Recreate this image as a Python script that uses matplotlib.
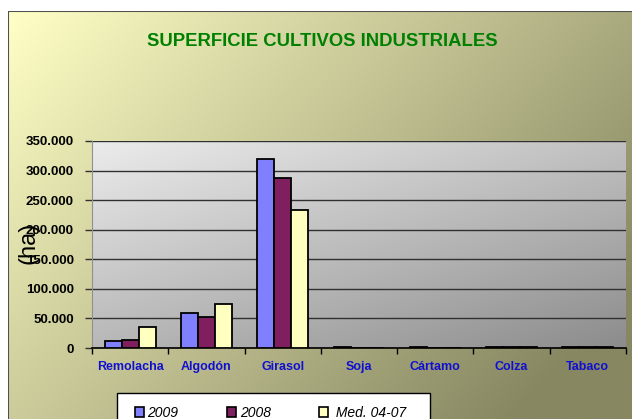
import numpy as np
import matplotlib.pyplot as plt
from matplotlib.patches import Rectangle, Patch

# Data
categories = ['Remolacha', 'Algodón', 'Girasol', 'Soja', 'Cártamo', 'Colza', 'Tabaco']
series_names = ['2009', '2008', ' Med. 04-07']
v2009 = [12000, 59000, 320000, 1000, 2500, 2000, 1000]
v2008 = [14000, 52000, 287000, 0, 0, 2000, 1000]
vmed = [35000, 74000, 234000, 0, 0, 1000, 1000]
colors = ['#8080FF', '#801F60', '#FFFFC0']
yticks = [0, 50000, 100000, 150000, 200000, 250000, 300000, 350000]
ytick_labels = ['0', '50.000', '100.000', '150.000', '200.000', '250.000', '300.000', '350.000']

W, H = 632, 419
plt.rcParams['font.family'] = ['Liberation Sans', 'DejaVu Sans']
fig = plt.figure(figsize=(W / 100, H / 100), dpi=100)
fig.patch.set_facecolor('white')


def gradient(ax, c0, c1, wx, wy, n=200):
    # X grows to the right, Y grows downwards (row 0 = top)
    x = np.linspace(0, 1, n)
    y = np.linspace(0, 1, n)
    X, Y = np.meshgrid(x, y)
    t = np.clip(wx * X + wy * Y, 0, 1)[..., None]
    img = (1 - t) * np.array(c0) / 255 + t * np.array(c1) / 255
    ax.imshow(img, extent=(0, 1, 0, 1), origin='upper', transform=ax.transAxes,
              aspect='auto', zorder=0, interpolation='bilinear')


# chart area background
bg = fig.add_axes([8 / W, -0.05, 1.05, (H - 11) / H + 0.05])
bg.set_xlim(0, 1)
bg.set_ylim(0, 1)
bg.axis('off')
gradient(bg, (255, 255, 198), (135, 135, 98), 0.75, 0.45)
bg.add_patch(Rectangle((0, 0), 1, 1, transform=bg.transAxes, fill=False,
                       edgecolor='#505050', linewidth=1.5, zorder=5))

# plot area
left, right, top, bottom = 92, 626, 141, 348
ax = fig.add_axes([left / W, (H - bottom) / H, (right - left) / W, (bottom - top) / H])
gradient(ax, (236, 236, 236), (140, 140, 140), 0.45, 0.55)

x = np.arange(len(categories))
bw = 0.222
for i, vals in enumerate([v2009, v2008, vmed]):
    ax.bar(x + (i - 1) * bw, vals, width=bw, color=colors[i], edgecolor='black',
           linewidth=1.3, zorder=3, label=series_names[i])

ax.set_xlim(-0.5, len(categories) - 0.5)
ax.set_ylim(0, 350000)
ax.set_yticks(yticks)
ax.set_yticklabels(ytick_labels, fontsize=9.5, fontweight='bold')
ax.yaxis.grid(True, color='#303030', linewidth=1.0, zorder=1)
ax.set_axisbelow(True)
ax.set_xticks(x)
ax.set_xticklabels(categories, fontsize=9, fontweight='bold', color='#1010D0')
ax.set_xticks(np.arange(len(categories) + 1) - 0.5, minor=True)
ax.tick_params(axis='x', which='major', length=0, pad=9)
ax.tick_params(axis='x', which='minor', length=4, width=1, color='black', direction='out')
ax.tick_params(axis='y', length=5, width=1, color='#303030', pad=8)
for s in ['top', 'right']:
    ax.spines[s].set_visible(False)
ax.spines['left'].set_color('#909090')
ax.spines['bottom'].set_color('black')
ax.spines['bottom'].set_linewidth(1.2)

ax.set_ylabel('(ha)', fontsize=17)
ax.yaxis.set_label_coords(-0.098, 0.51)

fig.text(322 / W, 1 - 42 / H, 'SUPERFICIE CULTIVOS INDUSTRIALES', color='#008000',
         fontsize=13.3, fontweight='bold', ha='center', va='center')

# legend box (runs off the bottom edge)
fig.patches.append(Rectangle((117 / W, -0.05), (430 - 117) / W, 0.05 + (H - 393) / H,
                             transform=fig.transFigure, facecolor='white',
                             edgecolor='black', linewidth=1.0, zorder=1))
handles = [Patch(facecolor=c, edgecolor='black', linewidth=1.2) for c in colors]
fig.legend(handles, series_names, loc='center left', ncol=3,
           bbox_to_anchor=(135 / W, 1 - 413 / H),
           prop={'style': 'italic', 'size': 10}, frameon=False,
           handlelength=0.65, handleheight=0.65, handletextpad=0.25,
           columnspacing=3.5, borderaxespad=0, borderpad=0)

fig.savefig('out.png', dpi=100)
